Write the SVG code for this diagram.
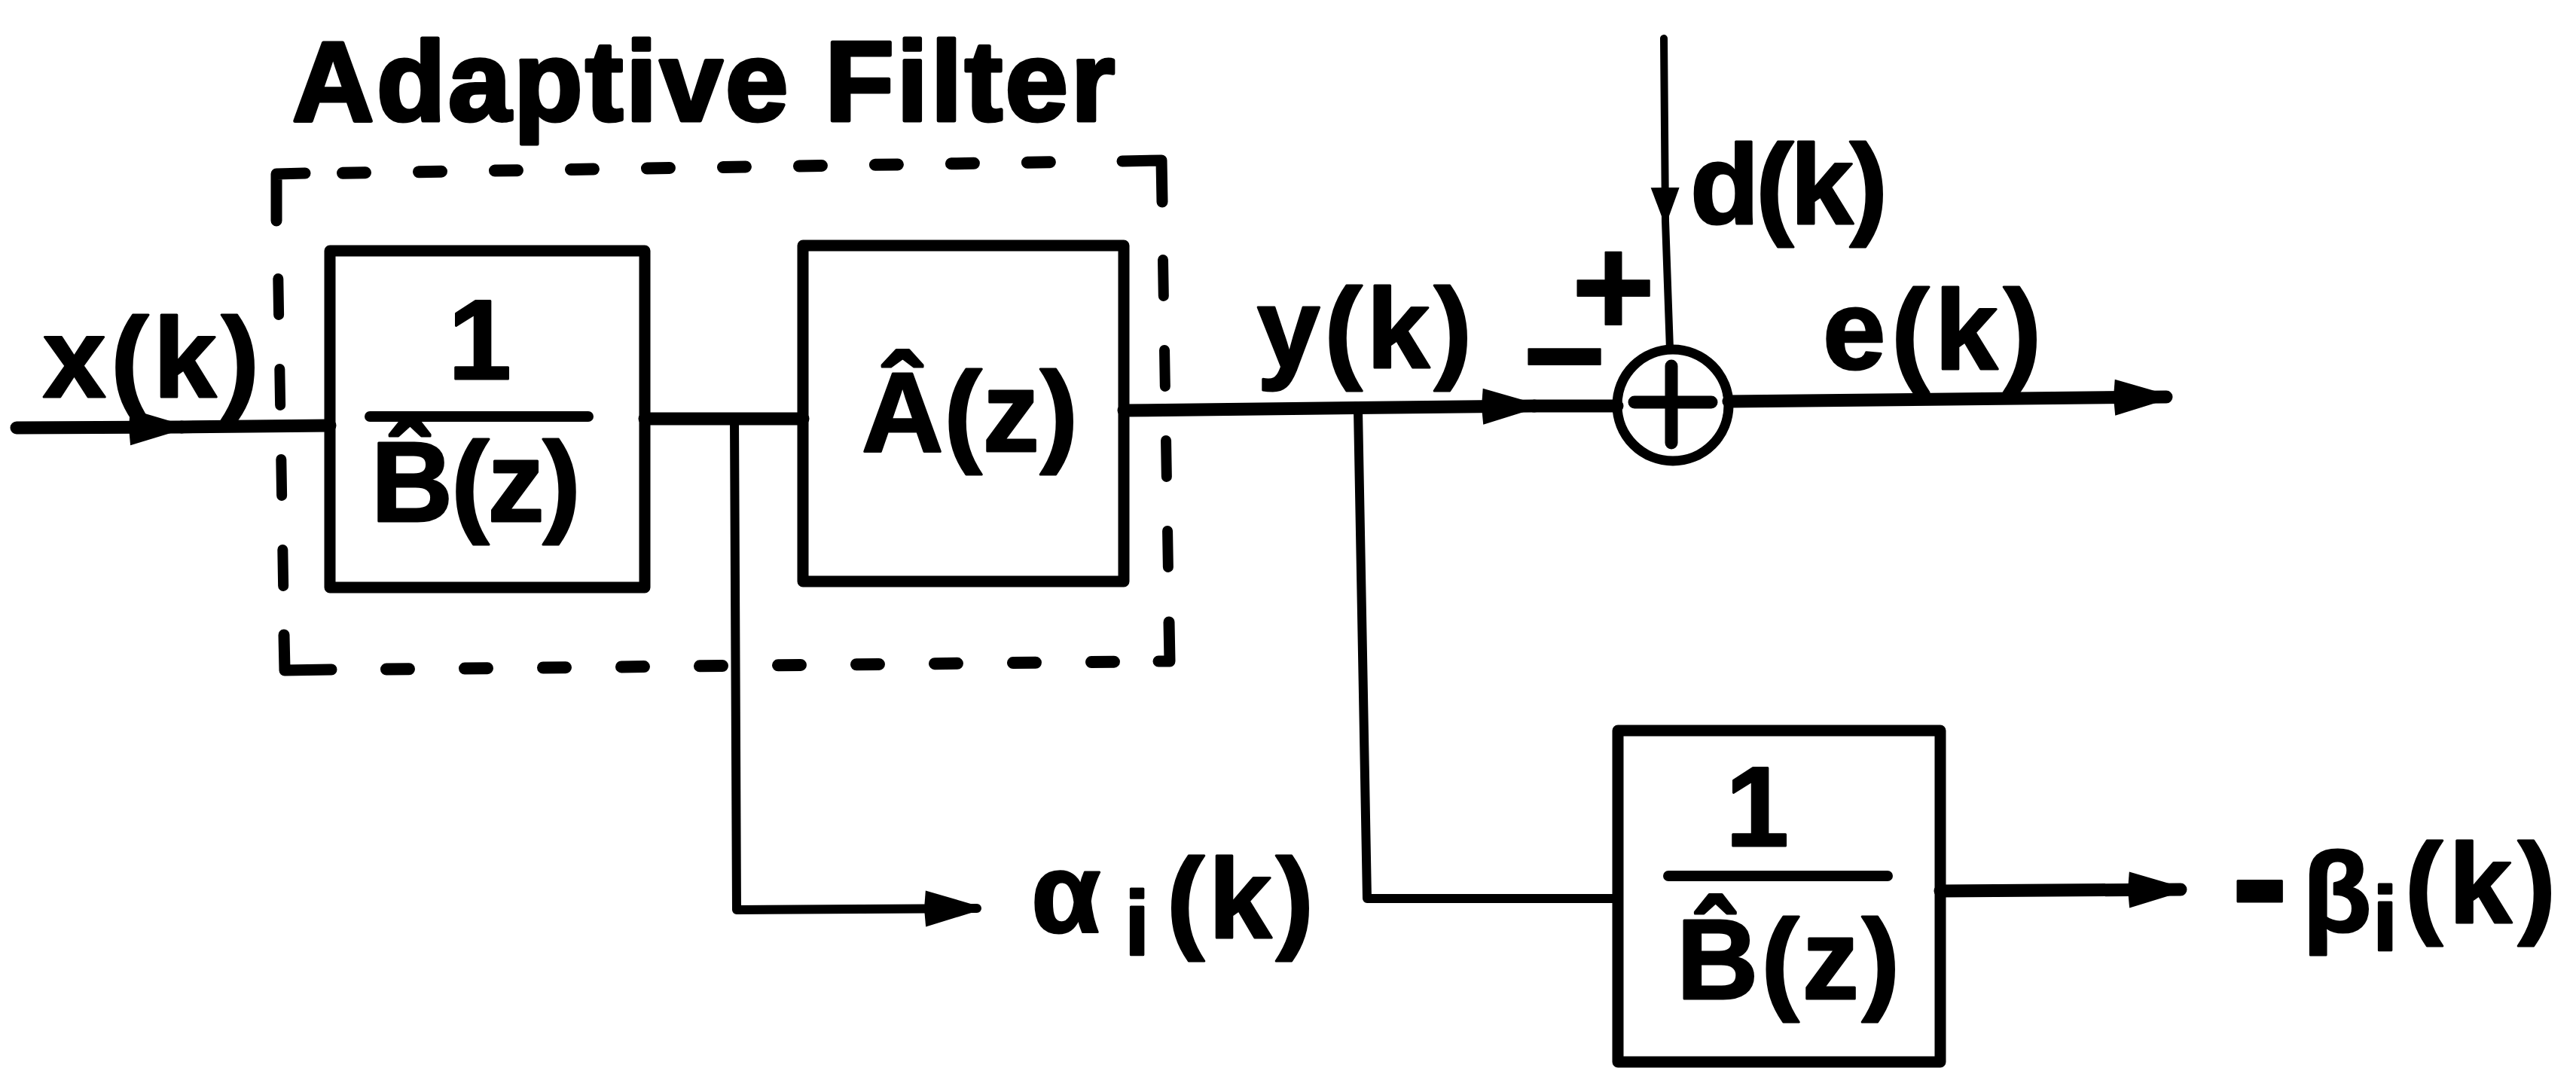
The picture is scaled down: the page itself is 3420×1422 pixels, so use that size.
<svg xmlns="http://www.w3.org/2000/svg" width="3420" height="1422" viewBox="0 0 3420 1422">
<style>
  text { font-family: 'Liberation Sans', 'Noto Sans', sans-serif; }
  .lbl { font-weight: 700; font-size: 150px; fill: #000; stroke: #000; stroke-width: 3; stroke-linejoin: round; }
  .sign { font-size: 190px; stroke-width: 2; }
  .sub { font-size: 120px; }
  .box { fill: none; stroke: #000; stroke-width: 15; stroke-linejoin: round; }
  .bar { stroke: #000; stroke-width: 14; stroke-linecap: round; }
  .wire { fill: none; stroke: #000; stroke-width: 17; stroke-linecap: round; stroke-linejoin: round; }
  .tap { fill: none; stroke: #000; stroke-width: 12; stroke-linecap: round; stroke-linejoin: round; }
  .thin { fill: none; stroke: #000; stroke-width: 10; stroke-linecap: round; }
  .corner { fill: none; stroke: #000; stroke-width: 15; stroke-linecap: round; stroke-linejoin: round; }
  .dashH { fill: none; stroke: #000; stroke-width: 16; stroke-linecap: round; stroke-dasharray: 30 71; }
  .dashB { fill: none; stroke: #000; stroke-width: 16; stroke-linecap: round; stroke-dasharray: 30 74; }
  .dashV { fill: none; stroke: #000; stroke-width: 14; stroke-linecap: round; stroke-dasharray: 48 72; }
</style>
<defs>
  <marker id="arrow" markerUnits="userSpaceOnUse" viewBox="0 0 72 50" refX="70" refY="25" markerWidth="72" markerHeight="50" orient="auto">
    <path d="M2,1 L72,22 L72,28 L2,49 L0,25 Z" fill="#000"/>
  </marker>
  <marker id="arrowSmall" markerUnits="userSpaceOnUse" viewBox="0 0 46 40" refX="44" refY="20" markerWidth="46" markerHeight="40" orient="auto">
    <path d="M0,1 L46,18 L46,22 L0,39 Z" fill="#000"/>
  </marker>
</defs>
<rect width="3420" height="1422" fill="#fff"/>

<g id="adaptive-filter-boundary">
  <text class="lbl" x="388" y="160" textLength="1092" style="stroke-width:5">Adaptive Filter</text>
  <path class="corner" d="M367,293 L367,231 L405,230"/>
  <path class="corner" d="M1490,214 L1542,213 L1543,268"/>
  <path class="corner" d="M1552,826 L1553,878 L1538,878"/>
  <path class="corner" d="M377,843 L378,890 L440,889"/>
  <path class="dashH" d="M455,229.7 L1400,215.2"/>
  <path class="dashV" d="M1544,345 L1551.5,790"/>
  <path class="dashB" d="M513,888.6 L1490,878.6"/>
  <path class="dashV" d="M369.3,370 L376.5,800"/>
</g>

<g id="input-label">
  <text class="lbl" x="57" y="527" textLength="287">x(k)</text>
</g>

<g id="inverse-B-filter">
  <rect class="box" x="438" y="333" width="418" height="447"/>
  <text class="lbl" x="637" y="503" text-anchor="middle">1</text>
  <line class="bar" x1="491" y1="553" x2="781" y2="553"/>
  <text class="lbl" x="491" y="692" textLength="278">B̂(z)</text>
</g>

<g id="A-filter">
  <rect class="box" x="1066" y="326" width="426" height="446"/>
  <text class="lbl" x="1144" y="599" textLength="287">Â(z)</text>
</g>

<g id="output-y-label">
  <text class="lbl" x="1669" y="488" textLength="285">y(k)</text>
</g>

<g id="summing-junction">
  <circle cx="2221" cy="538" r="74" fill="#fff" stroke="#000" stroke-width="13"/>
  <line class="wire" x1="2170" y1="534" x2="2272" y2="534"/>
  <line class="wire" x1="2219" y1="486" x2="2219" y2="588"/>
  <text class="lbl sign" text-anchor="middle" x="2077 2142" y="537 446">−+</text>
</g>

<g id="desired-label">
  <text class="lbl" x="2244" y="297" textLength="262">d(k)</text>
</g>

<g id="error-label">
  <text class="lbl" x="2420" y="490" textLength="290">e(k)</text>
</g>

<g id="alpha-output">
  <text class="lbl" x="1369" y="1238">α<tspan class="sub" x="1493" y="1268">i</tspan><tspan x="1549" y="1245" textLength="195">(k)</tspan></text>
</g>

<g id="inverse-B-filter-2">
  <rect class="box" x="2148" y="970" width="428" height="440"/>
  <text class="lbl" x="2333" y="1123" text-anchor="middle">1</text>
  <line class="bar" x1="2215" y1="1163" x2="2506" y2="1163"/>
  <text class="lbl" x="2226" y="1326" textLength="296">B̂(z)</text>
</g>

<g id="beta-output">
  <text class="lbl" x="2962" y="1243" style="font-size:230px">-<tspan x="3057" y="1237" style="font-size:150px">β</tspan><tspan class="sub" x="3150" y="1262" style="font-size:120px">i</tspan><tspan x="3193" y="1225" textLength="200" style="font-size:150px">(k)</tspan></text>
</g>

<g id="connectors">
  <path class="wire" d="M22,568 L241,567" marker-end="url(#arrow)"/>
  <path class="wire" d="M241,567 L438,565"/>
  <path class="wire" d="M856,556 L1066,556"/>
  <path class="tap" d="M975,556 L978,1208 L1297,1206" marker-end="url(#arrow)"/>
  <path class="wire" d="M1492,545 L2037,539" marker-end="url(#arrow)"/>
  <path class="wire" d="M2037,539 L2147,539"/>
  <path class="tap" d="M1803,544 L1815,1193 L2148,1193"/>
  <path class="thin" d="M2209,51 L2211,293" marker-end="url(#arrowSmall)"/>
  <path class="thin" d="M2211,293 L2217,464"/>
  <path class="wire" d="M2295,533 L2876,527" marker-end="url(#arrow)"/>
  <path class="wire" d="M2576,1183 L2895,1181" marker-end="url(#arrow)"/>
</g>
</svg>
